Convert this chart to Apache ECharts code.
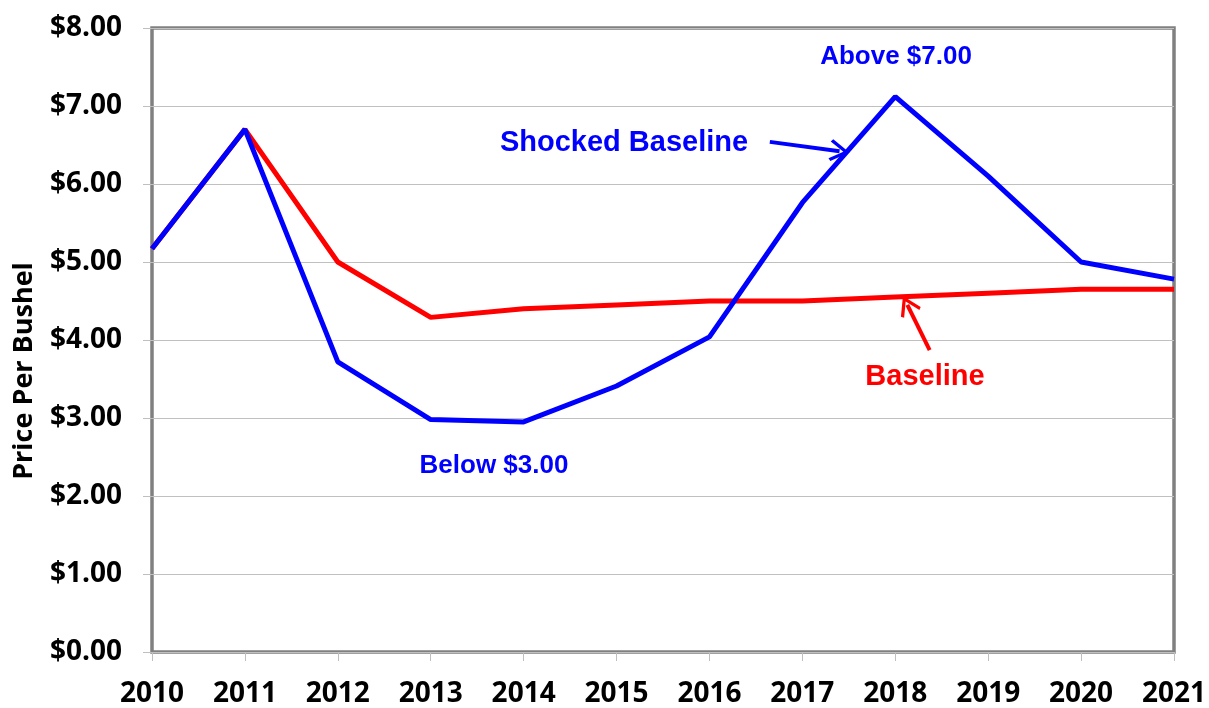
<!DOCTYPE html>
<html><head><meta charset="utf-8">
<script src="https://cdn.jsdelivr.net/npm/echarts@6/dist/echarts.min.js"></script>
<style>html,body{margin:0;padding:0;background:#fff}#c{width:1209px;height:708px}</style>
</head><body><div id="c"></div>
<script>
const years = [2010,2011,2012,2013,2014,2015,2016,2017,2018,2019,2020,2021];
const baseline = [5.17,6.70,5.00,4.29,4.40,4.45,4.50,4.50,4.55,4.60,4.65,4.65];
const shocked  = [5.17,6.70,3.72,2.98,2.95,3.41,4.04,5.76,7.12,6.10,5.00,4.78];
const yTicks = [0,1,2,3,4,5,6,7,8];

const chart = echarts.init(document.getElementById('c'));
const tickFont = {fontFamily:'Open Sans', fontWeight:'bold', fontSize:28, color:'#000'};
const chev = 'path://M0,0 L11,16 L8.5,18 L0,5.5 L-8.5,18 L-11,16 Z';
chart.setOption({
  animation:false,
  grid:{left:152,right:35,top:28,bottom:56,outerBoundsMode:'none',containLabel:false,show:true,borderColor:'#808080',borderWidth:3.5,backgroundColor:'#fff'},
  xAxis:{type:'value',min:2010,max:2021,interval:1,
    axisLine:{show:false},
    axisTick:{show:true,length:9,lineStyle:{color:'#bfbfbf',width:1}},
    splitLine:{show:false},
    axisLabel:Object.assign({margin:28,formatter:v=>String(v)},tickFont)},
  yAxis:{type:'value',min:yTicks[0],max:yTicks[yTicks.length-1],interval:1,
    axisLine:{show:false},
    axisTick:{show:true,length:9,lineStyle:{color:'#bfbfbf',width:1}},
    splitLine:{lineStyle:{color:'#c0c0c0',width:1}},
    axisLabel:Object.assign({margin:30,formatter:v=>'$'+v.toFixed(2)},tickFont)},
  series:[
    {name:'Baseline',type:'line',data:years.map((y,i)=>[y,baseline[i]]),
     showSymbol:false,lineStyle:{color:'#ff0000',width:5},
     markLine:{silent:true,symbol:['none',chev],symbolSize:[22,20],label:{show:false},
       lineStyle:{color:'#ff0000',width:4,type:'solid'},
       data:[[{coord:[2018.37,3.87]},{coord:[2018.13,4.45]}]]}},
    {name:'Shocked Baseline',type:'line',data:years.map((y,i)=>[y,shocked[i]]),
     showSymbol:false,lineStyle:{color:'#0000ff',width:5},
     markLine:{silent:true,symbol:['none',chev],symbolSize:[22,20],label:{show:false},
       lineStyle:{color:'#0000ff',width:4,type:'solid'},
       data:[[{coord:[2016.65,6.54]},{coord:[2017.40,6.42]}]]}}
  ],
  graphic:[
    {type:'text',x:24,y:371,rotation:Math.PI/2,style:{text:'Price Per Bushel',fill:'#000',font:'bold 27px "Open Sans"',align:'center',verticalAlign:'middle'}},
    {type:'text',x:896,y:57,style:{text:'Above $7.00',fill:'#0000ff',font:'bold 26px "Liberation Sans"',align:'center',verticalAlign:'middle'}},
    {type:'text',x:624,y:143,style:{text:'Shocked Baseline',fill:'#0000ff',font:'bold 29px "Liberation Sans"',align:'center',verticalAlign:'middle'}},
    {type:'text',x:494,y:466,style:{text:'Below $3.00',fill:'#0000ff',font:'bold 26px "Liberation Sans"',align:'center',verticalAlign:'middle'}},
    {type:'text',x:925,y:377,style:{text:'Baseline',fill:'#ff0000',font:'bold 29px "Liberation Sans"',align:'center',verticalAlign:'middle'}}
  ]
});
</script></body></html>
